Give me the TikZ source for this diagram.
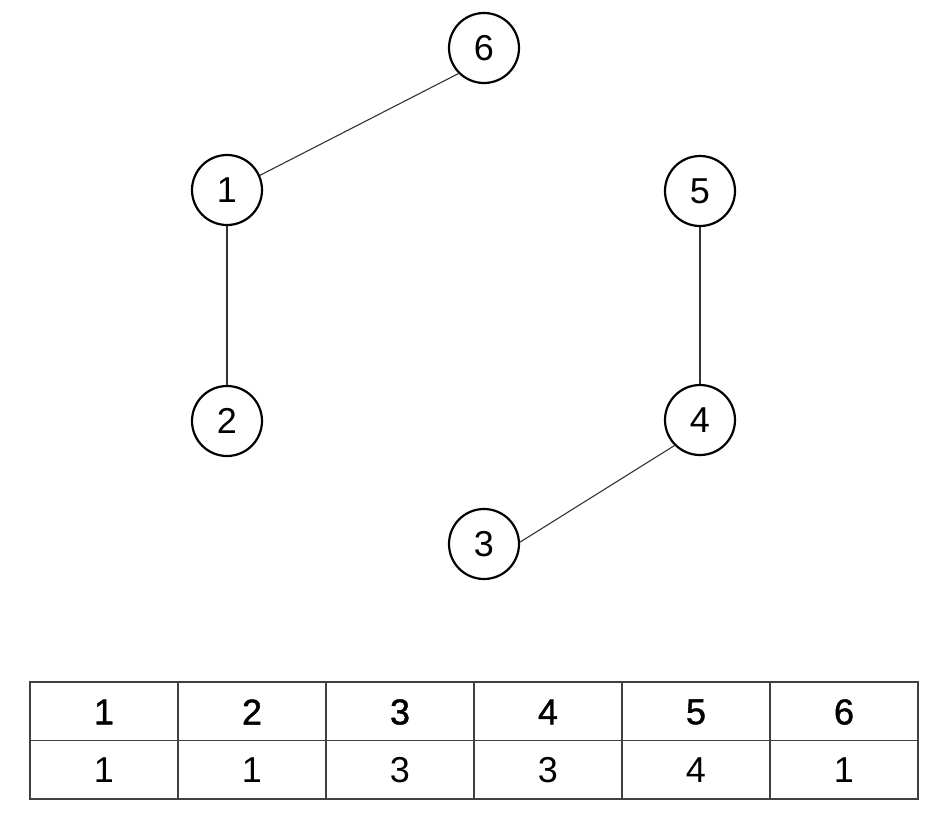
\documentclass[tikz,border=0pt]{standalone}
\usepackage{fontspec}
\setmainfont{Liberation Sans}
\newfontfamily\hdrfont[FakeBold=1.2]{Liberation Sans}
\begin{document}
\begin{tikzpicture}[x=1pt,y=-1pt,
  vert/.style={circle,draw=black,line width=2.2pt,minimum size=70pt,inner sep=0pt,font=\fontsize{36}{36}\selectfont},
  edge/.style={draw=black!80,line width=1.1pt},
  cell/.style={font=\fontsize{36}{36}\selectfont,inner sep=0pt},
  hcell/.style={font=\hdrfont\fontsize{36}{36}\selectfont,inner sep=0pt},
  grid/.style={draw=black!75,line width=1.6pt}]
\useasboundingbox (0,0) rectangle (937,814);
\node[vert] (n1) at (227,190) {1};
\node[vert] (n2) at (227,421) {2};
\node[vert] (n3) at (484,544) {3};
\node[vert] (n4) at (700,420) {4};
\node[vert] (n5) at (700,191) {5};
\node[vert] (n6) at (484,48) {6};
\draw[edge] (n1.24) -- (n6.225);
\draw[edge] (n1) -- (n2);
\draw[edge] (n5) -- (n4);
\draw[edge] (n3.3) -- (n4.225);
% table
\coordinate (tl) at (30,682);
\coordinate (br) at (918,799);
\draw[grid] (tl) rectangle (br);
\draw[grid] (30,740.5) -- (918,740.5);
\foreach \x in {178,326,474,622,770} \draw[grid] (\x,682) -- (\x,799);
\foreach \i/\t in {1/1,2/2,3/3,4/4,5/5,6/6}
  \node[hcell] (h\i) at ({30+148*(\i-0.5)},712) {\t};
\foreach \i/\t in {1/1,2/1,3/3,4/3,5/4,6/1}
  \node[cell] (v\i) at ({30+148*(\i-0.5)},770) {\t};
\end{tikzpicture}
\end{document}
